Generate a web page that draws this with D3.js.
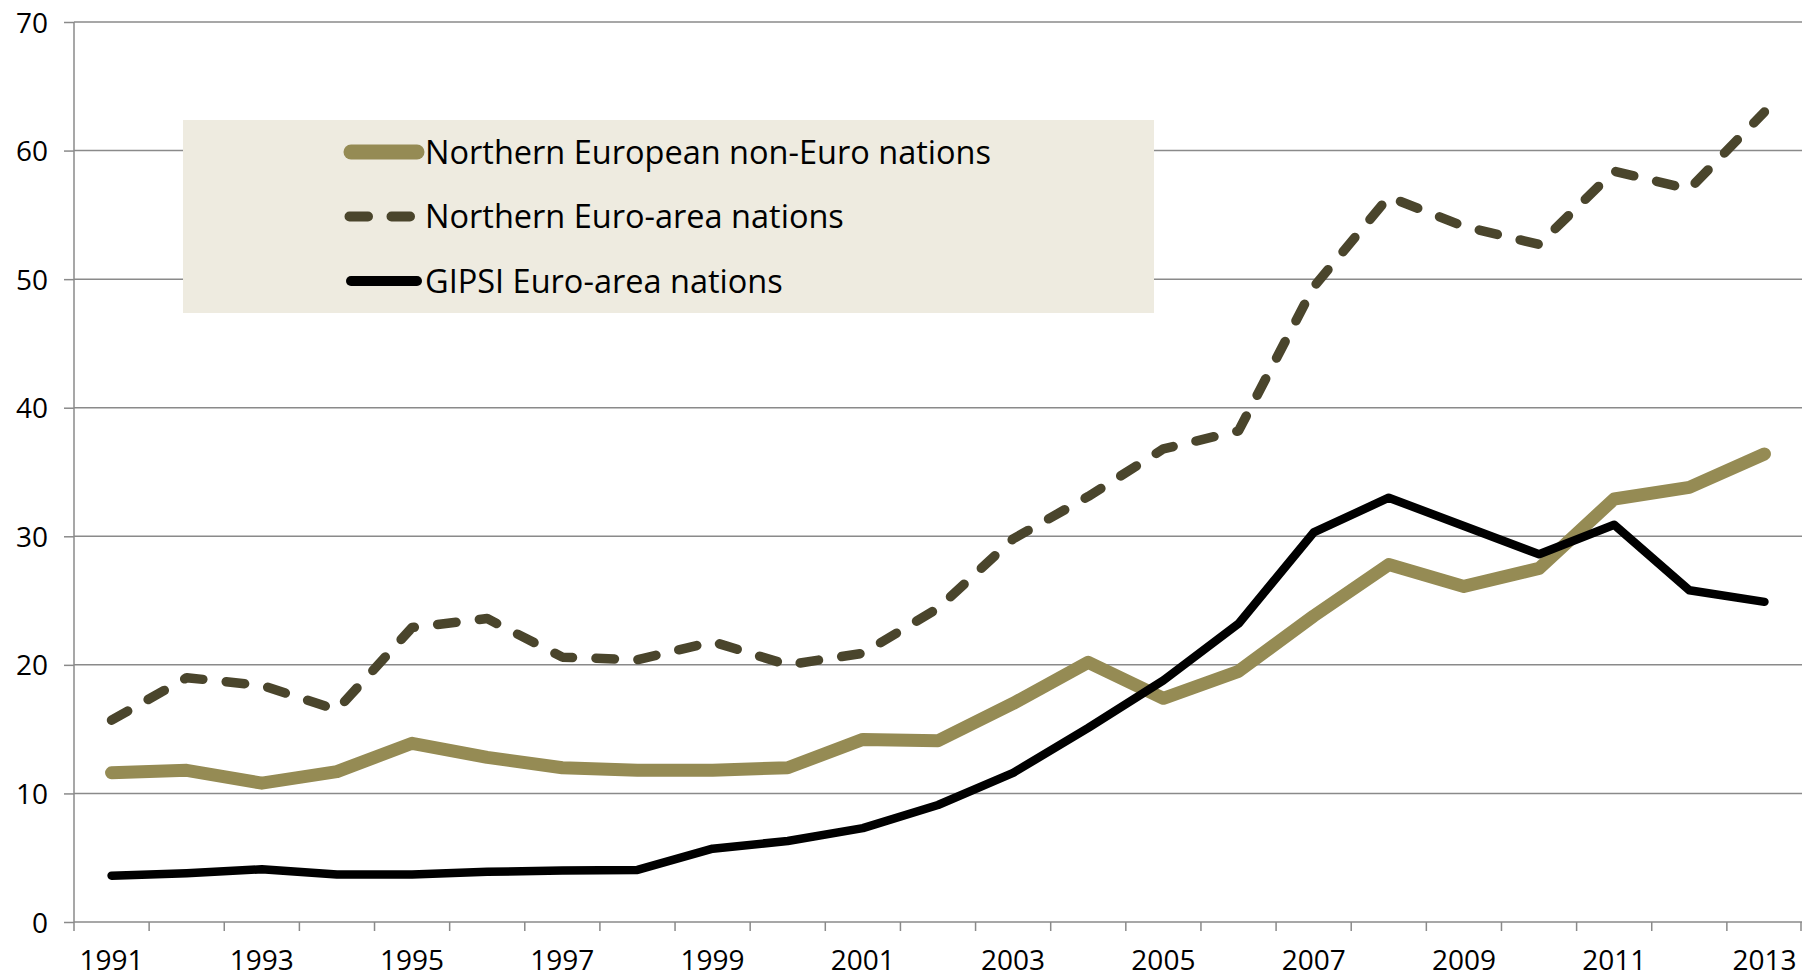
<!DOCTYPE html>
<html>
<head>
  <meta charset="utf-8">
  <style>
    body { margin: 0; background: #fff; }
    svg { display: block; }
    .grid line { stroke: #8a8a8a; stroke-width: 1.5px; }
    .axis path, .axis line { stroke: #8a8a8a; stroke-width: 1.5px; }
    .axis text { font-family: "Open Sans", sans-serif; font-size: 28px; fill: #000; }
    .line { fill: none; stroke-linejoin: round; stroke-linecap: round; }
    .legend text { font-family: "Open Sans", sans-serif; font-size: 32.5px; fill: #000; }
  </style>
</head>
<body>
  <svg id="chart" width="1802" height="978"></svg>
  <script src="https://cdn.jsdelivr.net/npm/d3@7"></script>
  <script>
    var years = d3.range(1991, 2014);
    var yTicks = [0, 10, 20, 30, 40, 50, 60, 70];

    var nonEuro = [11.6, 11.8, 10.8, 11.7, 13.9, 12.8, 12.0, 11.8, 11.8, 12.0, 14.2, 14.1,
      17.0, 20.2, 17.4, 19.5, 23.8, 27.8, 26.1, 27.5, 32.9, 33.8, 36.4];
    var northEuro = [15.7, 19.0, 18.4, 16.5, 22.9, 23.6, 20.6, 20.4, 21.8, 20.0, 20.9, 24.4,
      29.8, 33.1, 36.8, 38.2, 49.4, 56.4, 54.1, 52.7, 58.4, 57.0, 63.0];
    var gipsi = [3.6, 3.8, 4.1, 3.7, 3.7, 3.9, 4.0, 4.05, 5.7, 6.3, 7.3, 9.1,
      11.6, 15.1, 18.8, 23.2, 30.3, 33.0, 30.8, 28.6, 30.9, 25.8, 24.9];

    var seriesNames = ["Northern European non-Euro nations", "Northern Euro-area nations", "GIPSI Euro-area nations"];

    var svg = d3.select("#chart");

    var x = d3.scaleBand().domain(years).range([74, 1802]).padding(0);
    var y = d3.scaleLinear().domain([0, 70]).range([922, 22]);

    var series = [
      { name: seriesNames[0], values: nonEuro, color: "#958b54", width: 13, dash: null, lw: 15 },
      { name: seriesNames[1], values: northEuro, color: "#4a452c", width: 9.5, dash: "18.5,23.5", lw: 10 },
      { name: seriesNames[2], values: gipsi, color: "#000000", width: 8.5, dash: null, lw: 10 }
    ];

    // gridlines
    svg.append("g")
      .attr("class", "grid")
      .selectAll("line")
      .data(yTicks.slice(1))
      .enter().append("line")
      .attr("x1", x.range()[0])
      .attr("x2", x.range()[1])
      .attr("y1", function (d) { return y(d); })
      .attr("y2", function (d) { return y(d); });

    // y axis
    var yAxis = svg.append("g")
      .attr("class", "axis")
      .attr("transform", "translate(" + x.range()[0] + ",0)")
      .call(d3.axisLeft(y).tickValues(yTicks).tickSize(10).tickPadding(16));
    yAxis.select(".domain").attr("d", "M0," + y(70) + "V" + y(0));
    yAxis.selectAll("text").attr("dy", "0.36em");

    // x axis: ticks at band edges, labels on odd years
    var xAxis = svg.append("g")
      .attr("class", "axis")
      .attr("transform", "translate(0," + y(0) + ")");
    xAxis.append("path").attr("d", "M" + x.range()[0] + ",0H" + x.range()[1]);
    xAxis.selectAll(".edge")
      .data(years.map(function (d) { return x(d); }).concat([x.range()[1] - 1]))
      .enter().append("line")
      .attr("class", "edge")
      .attr("x1", function (d) { return d; })
      .attr("x2", function (d) { return d; })
      .attr("y1", 0)
      .attr("y2", 9);
    xAxis.selectAll(".lab")
      .data(years.filter(function (d) { return d % 2 === 1; }))
      .enter().append("text")
      .attr("class", "lab")
      .attr("x", function (d) { return x(d) + x.bandwidth() / 2; })
      .attr("y", 48)
      .attr("text-anchor", "middle")
      .text(function (d) { return d; });

    // legend box
    var legend = svg.append("g").attr("class", "legend");
    legend.append("rect")
      .attr("x", 183).attr("y", 120)
      .attr("width", 971).attr("height", 193)
      .attr("fill", "#eeebe0");

    var line = d3.line()
      .x(function (d, i) { return x(years[i]) + x.bandwidth() / 2; })
      .y(function (d) { return y(d); });

    svg.selectAll(".line")
      .data(series)
      .enter().append("path")
      .attr("class", "line")
      .attr("d", function (d) { return line(d.values); })
      .style("stroke", function (d) { return d.color; })
      .style("stroke-width", function (d) { return d.width; })
      .style("stroke-dasharray", function (d) { return d.dash; });

    var item = legend.selectAll(".item")
      .data(series)
      .enter().append("g")
      .attr("class", "item")
      .attr("transform", function (d, i) { return "translate(0," + (152 + i * 64.5) + ")"; });

    item.append("line")
      .attr("x1", function (d) { return d.dash ? 349.5 : 351; })
      .attr("x2", 417)
      .attr("y1", 0).attr("y2", 0)
      .attr("stroke", function (d) { return d.color; })
      .attr("stroke-width", function (d) { return d.lw; })
      .attr("stroke-linecap", "round")
      .attr("stroke-dasharray", function (d) { return d.dash; });

    item.append("text")
      .attr("x", 425)
      .attr("dy", "0.36em")
      .text(function (d) { return d.name; });
  </script>
</body>
</html>
